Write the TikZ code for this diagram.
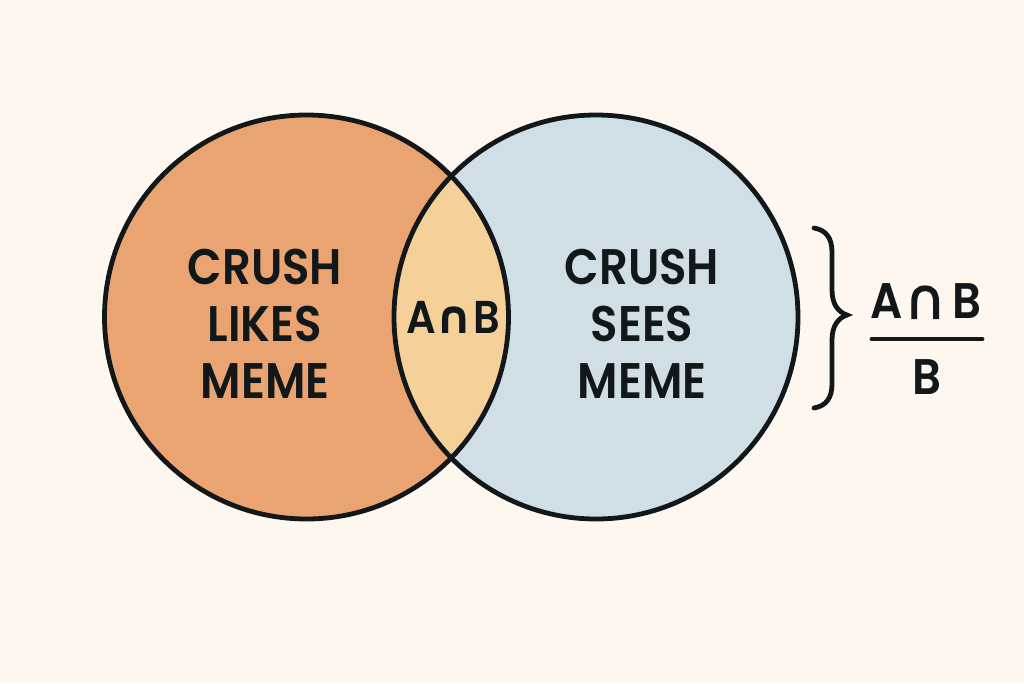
\documentclass[tikz,border=0pt]{standalone}
\usepackage{fontspec}
\setmainfont{Poppins SemiBold}[FakeStretch=0.9]
\newfontfamily\symfont{DejaVu Sans}[BoldFont=* Bold]
\newfontfamily\symthick{DejaVu Sans}[FakeBold=2.2]
\definecolor{bgc}{HTML}{FEF7F0}
\definecolor{orangec}{HTML}{E9A472}
\definecolor{bluec}{HTML}{D0DFE6}
\definecolor{overlapc}{HTML}{F5D199}
\definecolor{inkc}{HTML}{12181A}
\tikzset{
  ring/.style={draw=inkc,line width=4.8pt},
  lbl/.style={text=inkc,align=center,font=\fontsize{50}{57}\selectfont},
  mathlbl/.style={text=inkc,inner sep=0pt,font=\fontsize{50}{50}\selectfont},
  midlbl/.style={text=inkc,inner sep=0pt,font=\fontsize{46}{46}\selectfont}
}
\begin{document}
\begin{tikzpicture}[x=1pt,y=-1pt]
\useasboundingbox (0,0) rectangle (1024,683);
\fill[bgc] (0,0) rectangle (1024,683);
\coordinate (ca) at (306.5,317);
\coordinate (cb) at (596,317);
\fill[orangec] (ca) circle (202);
\fill[bluec] (cb) circle (202);
\begin{scope}
\clip (ca) circle (202);
\fill[overlapc] (cb) circle (202);
\end{scope}
\draw[ring] (ca) circle (202);
\draw[ring] (cb) circle (202);
\node[lbl] (left) at (265,324) {CRUSH\\LIKES\\MEME};
\node[lbl] (right) at (642,324) {CRUSH\\SEES\\MEME};
\node[midlbl] (mid) at (453,317) {A{\symfont\bfseries ∩}B};
\draw[inkc,line width=4.8pt,line cap=round] (814,228) .. controls (826,230) and (832,238) .. (832,252) -- (832,290) .. controls (832,304) and (838,312) .. (847,315) .. controls (838,318) and (832,326) .. (832,340) -- (832,384) .. controls (832,398) and (826,406) .. (814,408);
\node[mathlbl] (num) at (926,301) {A\kern2pt{\fontsize{56}{56}\symthick ∩}\kern7pt B};
\node[mathlbl] (den) at (927,377) {B};
\draw[inkc,line width=4.8pt,line cap=round] (872,339) -- (982,339);
\end{tikzpicture}
\end{document}
